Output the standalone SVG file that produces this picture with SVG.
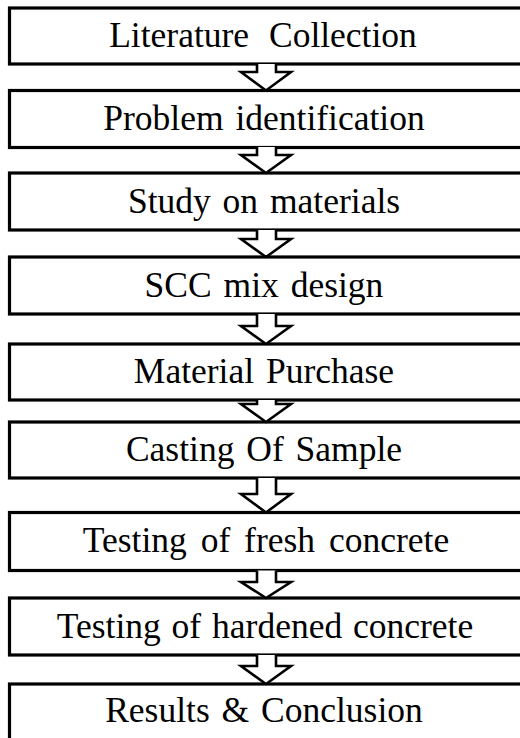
<svg xmlns="http://www.w3.org/2000/svg" width="520" height="738" viewBox="0 0 520 738">
<style>
.box{fill:#fff;stroke:#000;stroke-width:3.2}
.arr{fill:#fff;stroke:#000;stroke-width:2.6;stroke-linejoin:miter}
text{font-family:"Liberation Serif","DejaVu Serif",serif;font-size:35.5px;fill:#000;text-anchor:middle;word-spacing:3px}
</style>
<rect width="520" height="738" fill="#fff"/>
<g id="n1"><rect class="box" x="9.5" y="8" width="520" height="56"/><text x="263" y="47" style="word-spacing:11px">Literature Collection</text></g>
<g id="n2"><rect class="box" x="9.5" y="90.5" width="520" height="57"/><text x="264" y="130">Problem identification</text></g>
<g id="n3"><rect class="box" x="9.5" y="173" width="520" height="57"/><text x="264" y="213">Study on materials</text></g>
<g id="n4"><rect class="box" x="9.5" y="257" width="520" height="57"/><text x="264" y="297">SCC mix design</text></g>
<g id="n5"><rect class="box" x="9.5" y="344" width="520" height="56"/><text x="264" y="383">Material Purchase</text></g>
<g id="n6"><rect class="box" x="9.5" y="422" width="520" height="56"/><text x="264" y="461">Casting Of Sample</text></g>
<g id="n7"><rect class="box" x="9.5" y="512.5" width="520" height="58"/><text x="266" y="552" style="word-spacing:5px">Testing of fresh concrete</text></g>
<g id="n8"><rect class="box" x="9.5" y="598" width="520" height="57"/><text x="265" y="638" style="word-spacing:2px">Testing of hardened concrete</text></g>
<g id="n9"><rect class="box" x="9.5" y="684" width="520" height="70"/><text x="264" y="722">Results &amp; Conclusion</text></g>
<g id="connectors">
<path class="arr" d="M257,64 V72 H241 L266,90.5 L291,72 H276 V64"/>
<path class="arr" d="M257,147 V155 H241 L266,173 L291,155 H276 V147"/>
<path class="arr" d="M257,230 V239 H241 L266,257 L291,239 H276 V230"/>
<path class="arr" d="M257,314 V326 H241 L266,344 L291,326 H276 V314"/>
<path class="arr" d="M257,400 V404 H241 L266,422 L291,404 H276 V400"/>
<path class="arr" d="M257,478 V494 H241 L266,512.5 L291,494 H276 V478"/>
<path class="arr" d="M257,570.5 V582 H241 L266,598 L291,582 H276 V570.5"/>
<path class="arr" d="M257,655 V666 H241 L266,684 L291,666 H276 V655"/>
</g>
</svg>
